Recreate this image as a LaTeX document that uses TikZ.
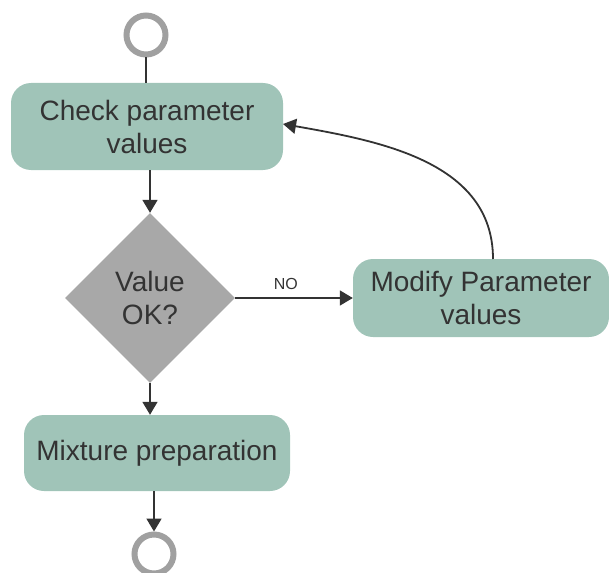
\documentclass[tikz,border=0pt]{standalone}
\usepackage{fontspec}
\setmainfont{Liberation Sans}
\usepackage{xcolor}
\usetikzlibrary{arrows.meta,shapes.geometric}
\definecolor{stepfill}{HTML}{A0C4B8}
\definecolor{decision}{HTML}{A8A8A8}
\definecolor{terminal}{HTML}{A0A0A0}
\definecolor{ink}{HTML}{333333}

\begin{document}
\begin{tikzpicture}[x=1pt, y=-1pt, >={Triangle[length=13pt,width=15pt]},
  stepbox/.style={rectangle, rounded corners=20pt, fill=stepfill, text=ink,
    font=\fontsize{28}{33}\selectfont, align=center, inner sep=0pt},
  ending/.style={circle, draw=terminal, line width=6pt, fill=white,
    minimum size=39pt, inner sep=0pt},
  flow/.style={->, ink, line width=1.8pt}]

  \useasboundingbox (0,0) rectangle (609,572);

  % ============== Main column ==============
  \node[ending] (start) at (146,35) {};
  \node[stepbox, minimum width=272pt, minimum height=87pt] (check) at (147,126.5)
    {Check parameter\\values};
  \node[diamond, fill=decision, text=ink, font=\fontsize{28}{33}\selectfont,
    align=center, minimum width=170pt, minimum height=170pt, aspect=1,
    inner sep=0pt] (valueok) at (150,298) {Value\\OK?};
  \node[stepbox, minimum width=266pt, minimum height=76pt] (mixture) at (157,453)
    {Mixture preparation};
  \node[ending] (stop) at (154,554) {};

  % ============== Right branch ==============
  \node[stepbox, minimum width=256pt, minimum height=78pt] (modify) at (481,298)
    {Modify Parameter\\values};

  % Connectors
  \draw[ink, line width=1.8pt] (start) -- (start |- check.north);
  \draw[flow] (check.south -| valueok) -- (valueok.north);
  \draw[flow] (valueok.east) -- (valueok.east -| modify.west)
    node[pos=0.43, above=4pt, text=ink, font=\fontsize{16}{18}\selectfont] {NO};
  \draw[flow] (valueok.south) -- (valueok.south |- mixture.north);
  \draw[flow] (mixture.south -| stop) -- (stop.north);

  % Loop back
  \coordinate (looptop) at (493,259);
  \coordinate (loopend) at (283,124);
  \draw[flow] (looptop) to[out=90, in=-10] (loopend);

\end{tikzpicture}
\end{document}
